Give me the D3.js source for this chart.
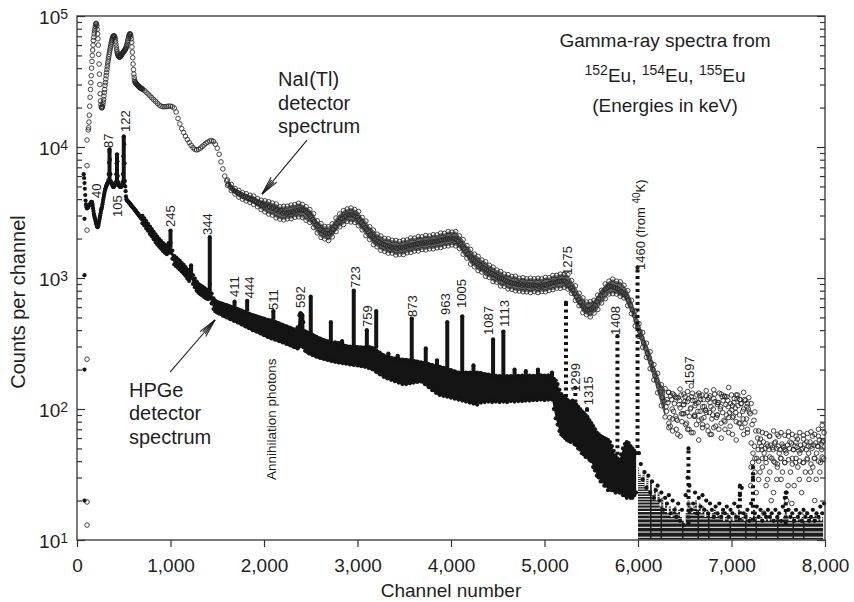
<!DOCTYPE html>
<html>
<head>
<meta charset="utf-8">
<script src="https://cdn.jsdelivr.net/npm/d3@7"></script>
<style>
  body { margin: 0; background: #fff; }
  svg { display: block; }
  text { font-family: "Liberation Sans", Arial, Helvetica, sans-serif; fill: #1e1e1e; }
</style>
</head>
<body>
<svg id="chart" width="854" height="602"></svg>
<script>
// ---- NaI(Tl) spectrum (open circles) ----
// ch 120..696, every 4 channels
const naiLow = [13500,14000,15500,17500,20500,24000,27500,31000,35000,40000,
  45000,50000,55000,60000,65000,69000,73000,77000,80000,83500,
  86500,88000,87000,84000,79000,73000,67000,60000,51000,43000,
  36000,30000,25500,22500,21000,20200,19900,20000,20300,21000,
  22000,23000,24500,26000,27500,29500,31000,33000,35000,37000,
  39000,41000,43000,45000,47000,49000,51000,53000,55000,57000,
  59000,61000,63000,65000,66500,68000,69000,70000,70500,70500,
  70000,69000,67000,64000,61000,58000,55500,53500,52000,51000,
  50000,49500,49000,48700,48600,48700,49000,49500,50000,50500,
  51000,51500,52000,52500,53000,53500,54000,54500,55000,55500,
  56000,57000,58000,59500,61000,63000,65000,67000,69000,70500,
  72000,73000,73000,72000,70000,67000,63000,58000,53000,48000,
  43000,39000,36000,34000,32500,31500,31000,30700,30400,30200,
  30000,29800,29600,29400,29200,29000,28900,28700,28600,28400,
  28300,28100,28000,27900,27700];
// ch 700..7980, every 20 channels
const naiCounts = [27700,27000,26200,25400,24600,23800,23000,22300,21600,20900,
  20500,20300,20300,20400,20500,20500,20300,19800,18500,16500,
  15000,13800,12900,12100,11400,10800,10300,9900,9600,9500,
  9600,9800,10100,10400,10700,10900,11100,11200,11000,10500,
  9800,8800,7700,6800,6000,5500,5200,4950,4800,4650,
  4550,4480,4350,4330,4200,4180,4080,4060,3980,3950,
  3880,3830,3720,3700,3600,3560,3620,3480,3500,3400,
  3420,3300,3330,3200,3260,3120,3180,3100,3160,3150,
  3220,3180,3290,3250,3330,3280,3300,3240,3150,3050,
  2950,2800,2700,2550,2480,2350,2300,2250,2200,2180,
  2200,2250,2350,2480,2600,2700,2820,2850,2950,2980,
  3050,3020,3060,3000,2950,2900,2780,2650,2550,2440,
  2350,2250,2150,2080,2000,1950,1900,1870,1820,1800,
  1780,1740,1760,1720,1700,1730,1680,1700,1720,1690,
  1720,1750,1730,1780,1760,1800,1790,1830,1810,1850,
  1830,1870,1850,1880,1860,1900,1880,1920,1900,1950,
  1930,1970,1960,2000,1980,2020,1990,2000,1950,1900,
  1820,1750,1680,1600,1530,1470,1420,1380,1340,1300,
  1270,1240,1200,1180,1150,1130,1100,1080,1060,1040,
  1020,1000,990,970,960,940,930,920,910,910,
  900,890,905,880,895,870,885,880,870,890,
  875,880,860,885,870,890,880,900,905,920,
  930,920,945,950,940,960,945,920,880,840,
  800,760,720,680,650,620,600,580,570,575,
  580,600,620,660,700,740,780,810,830,850,
  860,865,850,840,830,810,790,770,745,720,
  680,620,570,520,470,420,390,350,320,290,
  265,245,225,200,180,165,150,135,122,115,
  104,112,86,118,96,124,82,108,128,92,
  114,78,120,100,132,88,110,96,126,84,
  118,98,74,122,104,90,130,86,112,100,
  124,82,108,116,94,128,88,102,120,78,
  110,96,118,84,100,92,76,82,68,60,
  55,52,56,50,54,49,53,51,55,50,
  52,49,54,51,48,53,50,55,49,52,
  51,48,53,50,54,49,52,56,50,53,
  55,52,58,54,57];
// band edges, ch 1610..7970, every 40 channels
const naiLo = [5100,4650,4380,4150,4000,3880,3780,3650,3500,3330,
  3200,3080,3020,2880,2820,2780,2830,2840,2910,2930,
  2900,2760,2660,2430,2210,2040,1990,1930,2060,2260,
  2460,2560,2710,2680,2660,2510,2330,2110,1970,1800,
  1730,1630,1600,1550,1550,1500,1520,1510,1560,1570,
  1610,1610,1650,1640,1670,1670,1700,1710,1750,1760,
  1790,1760,1680,1520,1420,1280,1220,1140,1110,1030,
  1010,940,930,870,865,825,820,800,795,785,
  785,775,790,775,790,785,805,815,835,835,
  850,825,765,675,615,545,525,505,540,575,
  645,695,755,760,755,725,705,615,535,430,
  358,296,248,203,167,133,106,87,72,68,
  84,62,92,70,66,88,58,76,94,64,
  72,90,60,80,66,86,58,78,64,70,
  55,42,40,42,39,43,40,38,42,39,
  41,38,42,40,39,41,38,42,40,43];
const naiHi = [5600,5180,4830,4670,4480,4400,4280,4220,4030,3920,
  3880,3820,3730,3670,3500,3520,3530,3600,3630,3720,
  3640,3500,3330,3100,2730,2600,2470,2460,2590,2870,
  3080,3270,3360,3420,3330,3220,2900,2720,2460,2320,
  2160,2090,2000,1990,1940,1930,1900,1940,1950,2020,
  2010,2070,2060,2110,2090,2140,2130,2200,2190,2260,
  2240,2260,2100,1960,1770,1650,1520,1460,1370,1330,
  1250,1210,1150,1120,1070,1060,1025,1030,995,1005,
  985,995,985,995,985,1010,1005,1045,1045,1070,
  1065,1060,955,870,765,705,655,660,675,740,
  805,900,945,980,945,935,880,800,675,560,
  448,384,318,273,218,187,153,143,134,131,
  122,142,108,136,150,116,132,104,138,126,
  140,112,130,124,146,106,128,118,134,110,
  110,95,68,66,65,62,68,64,66,63,
  67,64,62,66,63,65,67,64,70,75];
// tail scatter, ch 6310..7990 and 6305..7985, every 20 channels
const naiScatterA = [118,78,126,84,110,70,122,102,80,130,
  76,114,88,124,66,106,128,82,118,72,
  104,126,68,112,84,120,74,108,132,78,
  116,70,124,86,110,64,120,80,106,118,
  72,100,116,66,95,36,46,33,42,29,
  59,36,46,26,52,33,42,23,56,36,
  46,29,52,39,20,62,33,42,26,56,
  36,46,23,59,33,42,29,52,36,20,
  46,62,39,56,66];
const naiScatterB = [96,134,74,100,128,88,64,116,92,108,
  124,94,70,102,116,90,76,112,96,128,
  86,98,118,94,64,100,114,90,70,104,
  94,126,90,104,74,98,112,94,128,90,
  110,84,78,104,122,26,39,52,23,49,
  33,49,16,42,29,62,20,49,39,29,
  62,42,33,49,46,26,56,19,49,39,
  59,29,49,39,16,56,46,33,62,42,
  29,52,33,49,42];
const naiOutlierCh = [107, 107, 107, 107, 107, 107];
const naiOutlierCounts = [11300, 7200, 2320, 240, 19.5, 13];

// ---- HPGe spectrum (filled dots) ----
// ch 72..696, every 4 channels
const hpgeLow = [6200,5800,5300,4800,4300,3900,3650,3500,3450,3400,
  3420,3450,3500,3550,3580,3600,3620,3650,3700,3750,
  3800,3820,3800,3700,3550,3400,3250,3100,3000,2920,
  2850,2780,2700,2620,2560,2500,2460,2440,2460,2520,
  2600,2700,2800,2900,3000,3120,3250,3350,3420,3500,
  3650,3800,3950,4100,4250,4400,4550,4700,4800,4900,
  5000,5100,5200,5250,5300,5400,5600,6200,7600,9200,
  8000,6200,5500,5300,5350,5300,5200,5100,5000,4950,
  4950,5000,5050,5100,5150,5200,5400,6200,7500,8700,
  7800,6000,5400,5200,5100,5050,5000,4980,4950,4960,
  4980,5000,5100,5200,5400,6200,8500,12000,10500,7500,
  5500,5000,4600,4200,4000,3950,3900,3880,3850,3820,
  3800,3770,3740,3700,3680,3650,3620,3590,3560,3530,
  3500,3470,3450,3420,3390,3360,3330,3300,3280,3250,
  3220,3190,3160,3140,3110,3080,3060,3030,3000,2980,
  2950,2930,2900,2880,2860,2830,2810];
// continuum band, ch 700..5980, every 20 channels
const hpgeLo = [2620,2520,2390,2290,2170,2080,1980,1880,1800,1730,
  1670,1610,1560,1520,1560,1560,1400,1270,1230,1200,
  1160,1120,1080,1040,990,950,1000,900,850,800,
  770,750,735,715,700,690,700,640,580,555,
  545,535,530,515,512,500,498,485,482,470,
  470,458,455,442,440,428,425,414,412,400,
  400,390,388,378,376,366,364,355,354,346,
  346,338,338,330,330,322,322,314,314,306,
  305,298,296,290,300,310,296,278,274,266,
  264,258,257,251,251,245,246,241,242,237,
  238,233,234,229,230,226,228,224,226,222,
  224,219,222,217,220,215,218,212,215,210,
  212,206,208,201,200,192,192,184,184,176,
  177,171,173,167,169,163,165,159,161,155,
  158,155,160,157,162,159,164,161,166,162,
  162,155,154,147,146,139,139,133,133,128,
  130,126,128,124,126,122,124,120,122,118,
  120,116,118,114,116,112,114,110,112,108,
  115,112,117,113,117,114,117,113,117,114,
  117,113,118,114,117,113,118,115,118,114,
  118,115,119,115,118,116,120,116,119,117,
  120,117,121,118,120,117,121,118,121,118,
  100,85,76,68,64,62,60,58,57,56,
  57,54,53,50,49,46,45,43,43,41,
  40,36,34,31,30,28,28,26,26,24,
  25,24,24,23,24,23,23,22,22,21,
  22,21,21,22,23];
const hpgeHi = [2980,2850,2720,2590,2470,2360,2250,2150,2060,1980,
  1910,1850,1800,1760,1850,1850,1620,1470,1430,1390,
  1350,1300,1260,1210,1160,1120,1180,1050,990,940,
  900,880,860,840,820,810,900,760,700,670,
  655,650,640,635,625,622,612,606,598,592,
  585,580,570,565,555,550,540,535,526,522,
  514,510,502,499,492,489,482,480,474,472,
  466,462,454,450,442,438,430,427,420,417,
  410,406,398,420,520,530,460,392,384,380,
  372,368,360,356,348,344,338,336,330,328,
  322,320,314,322,318,318,312,310,304,302,
  298,299,296,298,295,297,294,296,293,295,
  296,297,294,292,284,280,272,268,260,257,
  250,250,246,246,242,242,239,240,237,238,
  236,237,234,235,232,233,230,230,226,227,
  224,224,220,220,216,216,212,212,209,210,
  206,206,202,202,198,198,194,194,190,190,
  188,190,188,190,188,190,188,190,188,190,
  188,188,184,185,182,183,180,181,178,179,
  176,178,176,178,176,178,176,178,176,178,
  176,179,176,180,177,179,176,180,177,179,
  177,180,177,181,178,180,177,181,178,180,
  170,165,155,140,130,125,122,118,115,113,
  116,112,108,104,100,96,93,90,86,82,
  78,74,70,66,64,62,61,60,59,58,
  56,52,48,44,42,41,45,50,54,56,
  55,52,50,48,46];
// tail, ch 6000..7980 (upper edge of the floor) and ch 6010..7990 (single dots)
const hpgeTailHi = [36,32,28,34,26,30,24,28,22,25,
  20,23,18,21,17,19,16,18,15,17,
  18,16,17,15,14,13,16,20,18,16,
  18,20,17,19,16,18,15,17,16,15,
  16,17,15,16,15,17,14,15,16,14,
  15,14,16,15,17,14,15,14,16,14,
  15,14,17,15,14,14,15,14,14,15,
  14,15,14,14,15,15,14,14,15,17,
  15,14,14,15,15,14,15,14,15,14,
  14,15,15,14,15,16,14,15,14,15];
const hpgeTailDots = [46,38,29,33,25,31,23,28,21,24,
  26,20,23,17,21,19,22,16,20,17,
  15,19,14,17,13,22,30,26,17,19,
  23,16,21,18,22,17,20,16,19,17,
  15,18,16,19,15,17,16,18,15,17,
  16,19,15,18,22,25,16,15,17,14,
  19,30,16,18,15,17,14,16,15,17,
  15,16,14,17,15,16,14,18,21,23,
  17,15,16,14,17,15,16,14,17,15,
  16,14,15,17,14,16,15,18,16,19];
const hpgeOutlierCh = [80, 80, 80, 80];
const hpgeOutlierCounts = [2830, 1050, 200, 20];
// count levels of the quantised floor rows
const floorRows = [10,11,12,13,14,15,16,17,18,19,20,21,22,23,24,25,26,27,28,29,30,31,32,33,34,35,36];
// peak columns
const peakCh =   [348,428,500,1000,1220,1420,1685,1820,2100,2390,2410,2500,2715,2835,2960,3100,3200,3330,3430,3580,3730,3850,3960,4120,4240,4450,4560,4680,4800,4930,5080,5230,5330,5455,5780,5995,6540,7090,7230,7580];
const peakBase = [5400,5100,5000,1700,1000,780,600,560,480,420,420,380,320,300,300,290,290,240,230,230,220,205,200,190,185,180,180,175,175,175,175,110,100,85,40,45,13,14,14,13];
const peakTop =  [9600,8800,12000,2300,1250,2050,660,670,560,540,520,720,460,330,800,400,560,265,255,490,290,235,460,510,215,340,390,200,195,200,190,650,145,100,360,1200,50,26,36,23];

// ---- peak energy labels (keV) ----
const labelText = ["40","87","105","122","245","344","411","444","511","592","723","759","873","963","1005","1087","1113","1275","1299","1315","1408","1460","1597"];
const labelCh = [203,332,428,513,995,1390,1679,1840,2096,2385,2973,3102,3583,3936,4107,4396,4567,5241,5326,5465,5754,6021,6545];
const labelCounts = [4080,9820,2920,13000,2450,2130,716,700,570,590,840,423,504,522,590,367,423,1055,135,107,367,1150,152];

const xTicks = [0,1000,2000,3000,4000,5000,6000,7000,8000];
const yTicks = [10,100,1000,10000,100000];

// ---------------------------------------------------------------
const svg = d3.select('#chart');
const x = d3.scaleLinear().domain([0, 8000]).range([77, 825]);
const y = d3.scaleLog().domain([10, 100000]).range([540, 16]);
const inRange = d => d.v >= 10 && d.v <= 100000;

function onGrid(start, step, values) {
    return values.map((v, i) => ({ch: start + i * step, v: v}));
}
function pairs(chs, values) {
    return chs.map((c, i) => ({ch: c, v: values[i]}));
}

// NaI(Tl) band underlay + open circles
const naiBand = naiLo.map((lo, i) => ({ch: 1610 + i * 40, lo: lo, hi: naiHi[i]}))
    .filter(d => d.ch < 6300)
svg.append('path')
    .datum(naiBand)
    .attr('d', d3.area().x(d => x(d.ch)).y0(d => y(d.lo)).y1(d => y(d.hi)))
    .attr('fill', '#666')

const naiPts = [].concat(
    onGrid(120, 4, naiLow),
    onGrid(700, 20, naiCounts),
    onGrid(1610, 40, naiLo),
    onGrid(1610, 40, naiHi),
    onGrid(6310, 20, naiScatterA),
    onGrid(6305, 20, naiScatterB),
    pairs(naiOutlierCh, naiOutlierCounts)
).filter(inRange);

svg.append('g')
    .selectAll('circle')
    .data(naiPts)
    .join('circle')
    .attr('cx', d => x(d.ch))
    .attr('cy', d => y(d.v))
    .attr('r', 2.3)
    .attr('fill', 'none')
    .attr('stroke', '#262626')
    .attr('stroke-width', 0.85)

// HPGe
const gHp = svg.append('g').attr('fill', '#141414')
const band = hpgeLo.map((lo, i) => ({ch: 700 + i * 20, lo: lo, hi: hpgeHi[i]}))
gHp.append('path')
    .datum(band)
    .attr('d', d3.area().x(d => x(d.ch)).y0(d => y(d.lo)).y1(d => y(d.hi)))

// quantised floor: dark area split into rows
const tail = onGrid(6000, 20, hpgeTailHi)
svg.append('clipPath').attr('id', 'tail-clip')
    .append('path')
    .datum(tail)
    .attr('d', d3.area().curve(d3.curveStep).x(d => x(d.ch)).y0(y.range()[0] - 0.5).y1(d => y(d.v)))
const gTail = gHp.append('g').attr('clip-path', 'url(#tail-clip)')
gTail.append('rect')
    .attr('x', x(6000) - 2).attr('width', x(8000) - x(6000) + 4)
    .attr('y', y(40)).attr('height', y(10) - y(40))
    .attr('fill', '#1c1c1c')
gTail.selectAll('line')
    .data(floorRows)
    .join('line')
    .attr('x1', x(6000) - 2).attr('x2', x(8000) + 2)
    .attr('y1', d => y(d + 0.5)).attr('y2', d => y(d + 0.5))
    .attr('stroke', '#fff')
    .attr('stroke-width', 1)
    .attr('stroke-dasharray', '14,1.5,9,1.5,20,1.5')

gHp.selectAll('line.peak')
    .data(peakCh.map((c, i) => ({ch: c, base: peakBase[i], top: peakTop[i]})))
    .join('line')
    .attr('class', 'peak')
    .attr('x1', d => x(d.ch)).attr('x2', d => x(d.ch))
    .attr('y1', d => y(d.base)).attr('y2', d => y(d.top))
    .attr('stroke', '#141414')
    .attr('stroke-width', 4)
    .attr('stroke-dasharray', d => d.ch > 5100 ? '3,3.5' : null)

const hpgePts = [].concat(
    onGrid(72, 4, hpgeLow),
    onGrid(700, 20, hpgeLo),
    onGrid(700, 20, hpgeHi),
    onGrid(6010, 20, hpgeTailDots),
    pairs(hpgeOutlierCh, hpgeOutlierCounts),
    pairs(peakCh, peakTop)
).filter(inRange)

gHp.selectAll('circle')
    .data(hpgePts)
    .join('circle')
    .attr('cx', d => x(d.ch))
    .attr('cy', d => y(d.v))
    .attr('r', 2.1)

// ---- axes ----
const axisColor = '#333'
const gx = svg.append('g')
    .attr('transform', `translate(0,${y.range()[0]})`)
    .call(d3.axisBottom(x).tickValues(xTicks).tickFormat(d3.format(',')).tickSize(7).tickPadding(12).tickSizeOuter(0))

const minors = []
for (let e = 10; e < 100000; e *= 10) {
    for (let k = 2; k <= 9; k++) minors.push(k * e)
}
const gyMinor = svg.append('g')
    .attr('transform', `translate(${x.range()[0]},0)`)
    .call(d3.axisLeft(y).tickValues(minors).tickSize(-5).tickFormat('').tickSizeOuter(0))
const gy = svg.append('g')
    .attr('transform', `translate(${x.range()[0]},0)`)
    .call(d3.axisLeft(y).tickValues(yTicks).tickSize(-8).tickPadding(9).tickFormat('').tickSizeOuter(0))
const grMinor = svg.append('g')
    .attr('transform', `translate(${x.range()[1]},0)`)
    .call(d3.axisRight(y).tickValues(minors).tickSize(-5).tickFormat('').tickSizeOuter(0))
const gr = svg.append('g')
    .attr('transform', `translate(${x.range()[1]},0)`)
    .call(d3.axisRight(y).tickValues(yTicks).tickSize(-8).tickFormat('').tickSizeOuter(0))

for (let g of [gx, gy, gyMinor, gr, grMinor]) {
    g.attr('font-family', null).attr('font-size', null)
    g.select('.domain').remove()
    g.selectAll('line').attr('stroke', axisColor).attr('stroke-width', 1.2)
}
gx.selectAll('text').attr('font-size', 19).attr('fill', '#1e1e1e')

gy.selectAll('.tick text').each(function (d) {
    const t = d3.select(this)
    t.text(null).attr('dy', '0.4em').attr('font-size', 19).attr('fill', '#1e1e1e')
    t.append('tspan').text('10')
    t.append('tspan').attr('font-size', 14).attr('dy', -5).text(Math.round(Math.log10(d)))
})

svg.append('rect')
    .attr('x', x.range()[0]).attr('y', y.range()[1])
    .attr('width', x.range()[1] - x.range()[0])
    .attr('height', y.range()[0] - y.range()[1])
    .attr('fill', 'none')
    .attr('stroke', axisColor)
    .attr('stroke-width', 1.3)

// axis titles
svg.append('text')
    .attr('x', (x.range()[0] + x.range()[1]) / 2)
    .attr('y', 597)
    .attr('text-anchor', 'middle')
    .attr('font-size', 19)
    .text('Channel number')
svg.append('text')
    .attr('transform', `translate(25,${(y.range()[0] + y.range()[1]) / 2 + 24}) rotate(-90)`)
    .attr('text-anchor', 'middle')
    .attr('font-size', 20)
    .text('Counts per channel')

// ---- peak labels ----
const gLab = svg.append('g').attr('font-size', 13)
labelText.forEach((s, i) => {
    const t = gLab.append('text')
        .attr('transform', `translate(${x(labelCh[i])},${y(labelCounts[i])}) rotate(-90)`)
        .attr('dy', '0.36em')
    if (s == '1460') {
        t.append('tspan').text('1460 (from ')
        t.append('tspan').attr('font-size', 10).attr('dy', -5).text('40')
        t.append('tspan').attr('dy', 5).text('K)')
    }
    else {
        t.text(s)
    }
})
svg.append('text')
    .attr('transform', `translate(${x(2075)},${y(28.7)}) rotate(-90)`)
    .attr('dy', '0.36em')
    .attr('font-size', 13.5)
    .text('Annihilation photons')

// ---- annotations ----
function multiline(ch, count, lines, size) {
    const t = svg.append('text').attr('font-size', size)
    lines.forEach((s, i) => {
        t.append('tspan').attr('x', x(ch)).attr('y', y(count) + i * 23.5).text(s)
    })
}
multiline(2150, 29200, ['NaI(Tl)', 'detector', 'spectrum'], 20)
multiline(556, 124.5, ['HPGe', 'detector', 'spectrum'], 20)

function arrow(ch1, c1, ch2, c2) {
    const x1 = x(ch1), y1 = y(c1), x2 = x(ch2), y2 = y(c2)
    const a = Math.atan2(y1 - y2, x1 - x2)
    const g = svg.append('g').attr('stroke', '#1e1e1e').attr('stroke-width', 1.1).attr('fill', 'none')
    g.append('line').attr('x1', x1).attr('y1', y1).attr('x2', x2).attr('y2', y2)
    for (let da of [-0.2, -0.1, 0.1, 0.2]) {
        const len = Math.abs(da) > 0.15 ? 19 : 17
        g.append('line')
            .attr('x1', x2).attr('y1', y2)
            .attr('x2', x2 + len * Math.cos(a + da))
            .attr('y2', y2 + len * Math.sin(a + da))
    }
}
arrow(2460, 11300, 1979, 4375)
arrow(995, 191, 1476, 478)

// title block
const title = svg.append('g').attr('font-size', 19).attr('text-anchor', 'middle')
title.append('text').attr('x', x(6289)).attr('y', y(57900)).text('Gamma-ray spectra from')
const iso = title.append('text').attr('x', x(6289)).attr('y', y(57900) + 35)
;['152', '154', '155'].forEach((m, i) => {
    iso.append('tspan').attr('font-size', 14).attr('dy', -7).text(m)
    iso.append('tspan').attr('dy', 7).text(i < 2 ? 'Eu, ' : 'Eu')
})
title.append('text').attr('x', x(6289)).attr('y', y(57900) + 65).text('(Energies in keV)')
</script>
</body>
</html>
